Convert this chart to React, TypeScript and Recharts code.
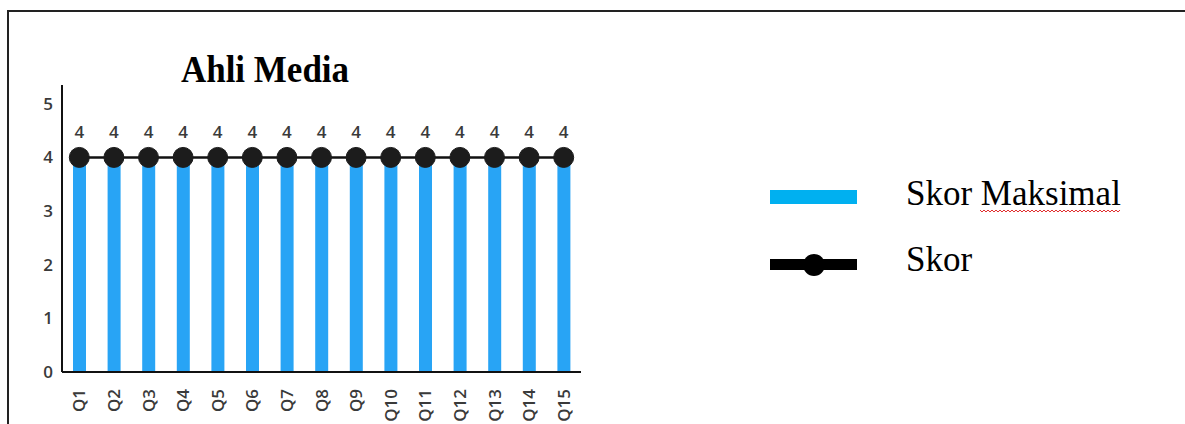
import React from "react";
import {
  ComposedChart,
  Bar,
  Line,
  XAxis,
  YAxis,
  LabelList,
  Legend,
} from "recharts";

const categories = ["Q1", "Q2", "Q3", "Q4", "Q5", "Q6", "Q7", "Q8", "Q9", "Q10", "Q11", "Q12", "Q13", "Q14", "Q15"];
const skorMaksimal = [4, 4, 4, 4, 4, 4, 4, 4, 4, 4, 4, 4, 4, 4, 4];
const skor = [4, 4, 4, 4, 4, 4, 4, 4, 4, 4, 4, 4, 4, 4, 4];
const yTicks = [0, 1, 2, 3, 4, 5];
const chartTitle = "Ahli Media";
const seriesNames = ["Skor Maksimal", "Skor"];

const data = categories.map((c, i) => ({ name: c, max: skorMaksimal[i], skor: skor[i] }));

const SANS = "'Open Sans', 'Noto Sans', sans-serif";
const SERIF = "'Liberation Serif', 'Times New Roman', serif";

const XTick = (props: any) => {
  const { x, y, payload } = props;
  return (
    <g transform={`translate(${x},${y})`}>
      <text
        transform="rotate(-90)"
        x={-9}
        y={0}
        dy="0.36em"
        textAnchor="end"
        fill="#3a3a3a"
        fontSize={17}
        fontWeight={600}
        fontFamily={SANS}
      >
        {payload.value}
      </text>
    </g>
  );
};

const wavy = (() => {
  const pts: string[] = [];
  let up = true;
  for (let x = 980; x <= 1121; x += 2) {
    pts.push(`${x},${up ? 210 : 212}`);
    up = !up;
  }
  return pts.join(" ");
})();

const LegendContent = () => (
  <svg width={400} height={120} style={{ overflow: "visible", display: "block" }}>
    <g transform="translate(-770,-175)">
      <rect x={770} y={190} width={87} height={14} fill="#00B0F0" />
      <text x={906} y={205} fontFamily={SERIF} fontSize={35} fill="#000">
        {seriesNames[0]}
      </text>
      <polyline points={wavy} fill="none" stroke="#E03030" strokeWidth={1} />
      <rect x={770} y={259} width={87} height={11} fill="#000" />
      <circle cx={814} cy={265} r={11} fill="#000" />
      <text x={906} y={271} fontFamily={SERIF} fontSize={35} fill="#000">
        {seriesNames[1]}
      </text>
    </g>
  </svg>
);

export default function App() {
  return (
    <div
      style={{
        position: "absolute",
        left: 0,
        top: 0,
        width: 1185,
        height: 424,
        overflow: "hidden",
        background: "#fff",
      }}
    >
      <div
        style={{
          position: "absolute",
          left: 7,
          top: 10,
          width: 1300,
          height: 600,
          border: "2px solid #222",
          boxSizing: "border-box",
        }}
      />
      <div
        style={{
          position: "absolute",
          left: 165,
          top: 50,
          width: 200,
          textAlign: "center",
          fontFamily: SERIF,
          fontWeight: "bold",
          fontSize: 35,
          lineHeight: "40px",
          color: "#000",
          transform: "scaleY(1.08)",
        }}
      >
        {chartTitle}
      </div>
      <div style={{ position: "absolute", left: 0, top: 0 }}>
        <ComposedChart
          width={1185}
          height={424}
          data={data}
          margin={{ top: 85, right: 604, bottom: 0, left: 0 }}
        >
          <XAxis
            dataKey="name"
            interval={0}
            tick={<XTick />}
            tickLine={false}
            axisLine={{ stroke: "#111", strokeWidth: 2 }}
            height={52}
          />
          <YAxis
            domain={[0, 5.35]}
            ticks={yTicks}
            tickLine={false}
            axisLine={{ stroke: "#111", strokeWidth: 2 }}
            tick={{ fill: "#3a3a3a", fontSize: 17, fontWeight: 600, fontFamily: SANS }}
            tickMargin={3}
            width={62}
            allowDataOverflow
          />
          <Legend
            layout="horizontal"
            verticalAlign="middle"
            align="center"
            content={<LegendContent />}
            wrapperStyle={{ position: "absolute", left: 770, top: 175, width: 400, height: 120 }}
          />
          <Bar
            dataKey="max"
            name={seriesNames[0]}
            fill="#28A4F5"
            barSize={13}
            isAnimationActive={false}
          />
          <Line
            dataKey="skor"
            name={seriesNames[1]}
            stroke="#111"
            strokeWidth={2.5}
            dot={{ r: 10, fill: "#1c1c1c", stroke: "#1c1c1c", strokeWidth: 1 }}
            isAnimationActive={false}
          >
            <LabelList
              dataKey="skor"
              position="top"
              offset={19}
              fill="#3a3a3a"
              fontSize={17}
              fontWeight={600}
              fontFamily={SANS}
            />
          </Line>
        </ComposedChart>
      </div>
    </div>
  );
}
